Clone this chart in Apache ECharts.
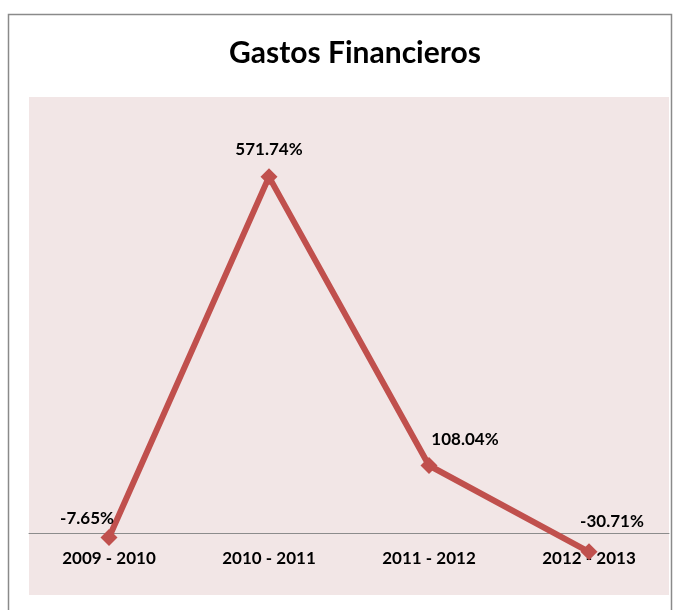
<!DOCTYPE html>
<html>
<head>
<meta charset="utf-8">
<script src="https://cdn.jsdelivr.net/npm/echarts@6/dist/echarts.min.js"></script>
<style>
  html, body { margin: 0; padding: 0; background: #ffffff; }
  #chart { width: 675px; height: 610px; }
</style>
</head>
<body>
<div id="chart"></div>
<script>
// Year-over-year change in financial expenses (%)
const periods = ['2009 - 2010', '2010 - 2011', '2011 - 2012', '2012 - 2013'];
const changePct = [-7.65, 571.74, 108.04, -30.71];
const chartTitle = 'Gastos Financieros';

// Per-point label placement around each marker
const labelOffsets = [[-22, 8], [0, 0], [36, 1], [23, -3]];

const font = 'Lato, "Open Sans", sans-serif';

const chart = echarts.init(document.getElementById('chart'), null, { renderer: 'canvas' });

chart.setOption({
  backgroundColor: '#ffffff',
  animation: false,
  title: {
    text: chartTitle,
    left: 350,
    textAlign: 'center',
    top: 33,
    textStyle: { fontFamily: font, fontSize: 30, fontWeight: 'bold', color: '#000000' }
  },
  graphic: [{
    type: 'rect',
    shape: { x: 8.5, y: 14.5, width: 663, height: 620 },
    style: { fill: null, stroke: '#8a8a8a', lineWidth: 1.5 },
    silent: true,
    z: -1
  }],
  grid: {
    left: 29, right: 6, top: 97, bottom: 15,
    outerBoundsMode: 'none',
    containLabel: false,
    show: true,
    backgroundColor: '#F2E6E6',
    borderWidth: 0
  },
  xAxis: {
    type: 'category',
    data: periods,
    boundaryGap: true,
    position: 'bottom',
    // the category axis sits on the zero line of the value axis
    offset: -62,
    axisLine: { onZero: false, lineStyle: { color: '#8c8c8c', width: 1 } },
    axisTick: { show: false },
    axisLabel: {
      margin: 17,
      fontFamily: font, fontSize: 17, fontWeight: 'bold', color: '#000000'
    },
    z: 1
  },
  yAxis: {
    type: 'value',
    min: -100, max: 700, interval: 100,
    show: false,
    splitLine: { show: false }
  },
  series: [{
    type: 'line',
    data: changePct.map((v, i) => ({
      value: v,
      label: { offset: labelOffsets[i] }
    })),
    symbol: 'diamond',
    symbolSize: 17,
    lineStyle: { color: '#C0504D', width: 6 },
    itemStyle: { color: '#C0504D' },
    z: 5,
    label: {
      show: true,
      position: 'top',
      distance: 10,
      fontFamily: font, fontSize: 17, fontWeight: 'bold', color: '#000000',
      formatter: p => p.value.toFixed(2) + '%'
    }
  }]
});
</script>
</body>
</html>
